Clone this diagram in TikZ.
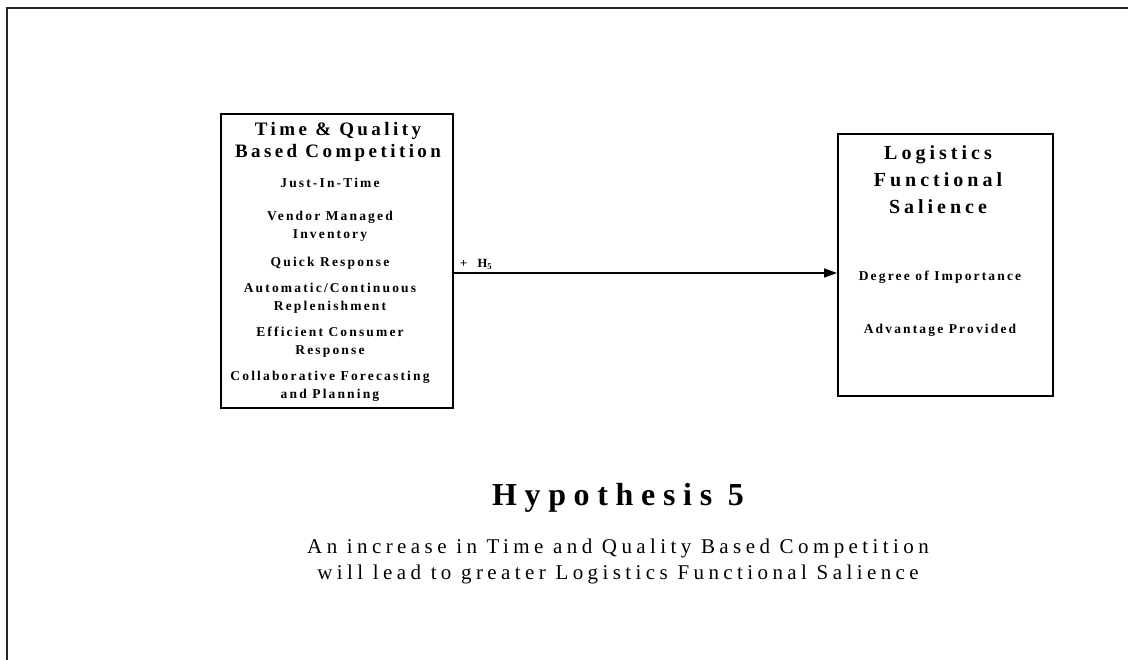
\documentclass[tikz,border=0pt]{standalone}
\usepackage{fontspec}
\setmainfont{Liberation Serif}
% letter-spaced Times-like faces for the headings, box items and caption
\newfontfamily\headfont[LetterSpace=18]{Liberation Serif}
\newfontfamily\rheadfont[LetterSpace=20]{Liberation Serif}
\newfontfamily\itemfont[LetterSpace=16]{Liberation Serif}
\newfontfamily\capfont[LetterSpace=24]{Liberation Serif}
\newfontfamily\bodyfont[LetterSpace=21]{Liberation Serif}
\usetikzlibrary{arrows.meta}

\tikzset{
  frameline/.style={line width=2pt, black!85},
  construct/.style={draw, line width=2pt, rectangle, inner sep=0pt, anchor=north west},
  heading/.style={align=center, inner sep=0pt, font=\headfont\bfseries\fontsize{19}{22.5}\selectfont},
  rheading/.style={align=center, inner sep=0pt, font=\rheadfont\bfseries\fontsize{20}{27}\selectfont},
  item/.style={align=center, inner sep=0pt, font=\itemfont\bfseries\fontsize{13.5}{18}\selectfont},
  link/.style={line width=1.6pt, -{Triangle[length=13pt,width=9pt]}},
  hyptitle/.style={inner sep=0pt, font=\capfont\bfseries\fontsize{32}{36}\selectfont},
  hyptext/.style={align=center, inner sep=0pt, font=\bodyfont\fontsize{21}{26}\selectfont},
}

\begin{document}
\begin{tikzpicture}[x=1pt, y=-1pt]
\useasboundingbox (0,0) rectangle (1128,660);

% open page frame
\coordinate (fb) at (7,660);
\coordinate (fc) at (7,8);
\coordinate (fr) at (1128,8);
\draw[frameline] (fb) -- (fc) -- (fr);

% left construct
\node[construct, minimum width=232pt, minimum height=294pt] (tq) at (220,113) {};
\node[heading] (tqh) at (338,142) {Time \& Quality\\Based Competition};
\node[item] (jit) at (330,183) {Just-In-Time};
\node[item] (vmi) at (330,226.5) {Vendor Managed\\Inventory};
\node[item] (qr)  at (330,263) {Quick Response};
\node[item] (acr) at (330,298.5) {Automatic/Continuous\\Replenishment};
\node[item] (ecr) at (330,342.5) {Efficient Consumer\\Response};
\node[item] (cpf) at (330,386.5) {Collaborative Forecasting\\and Planning};

% right construct
\node[construct, minimum width=215pt, minimum height=262pt] (lfs) at (837,133) {};
\node[rheading] (lfsh) at (938,180) {Logistics\\Functional\\Salience};
\node[item] (doi) at (940,277) {Degree of Importance};
\node[item] (adv) at (940,330) {Advantage Provided};

% hypothesised link
\draw[link] (tq.east |- 0,273) -- (lfs.west |- 0,273);
\node[item, anchor=south west, font=\itemfont\bfseries\fontsize{12.5}{14}\selectfont] (h5) at (460,270) {+\ \ H\textsubscript{5}};

% caption
\node[hyptitle] (hyp) at (618,498) {Hypothesis 5};
\node[hyptext] (hypt) at (618,561) {An increase in Time and Quality Based Competition\\will lead to greater Logistics Functional Salience};
\end{tikzpicture}
\end{document}
